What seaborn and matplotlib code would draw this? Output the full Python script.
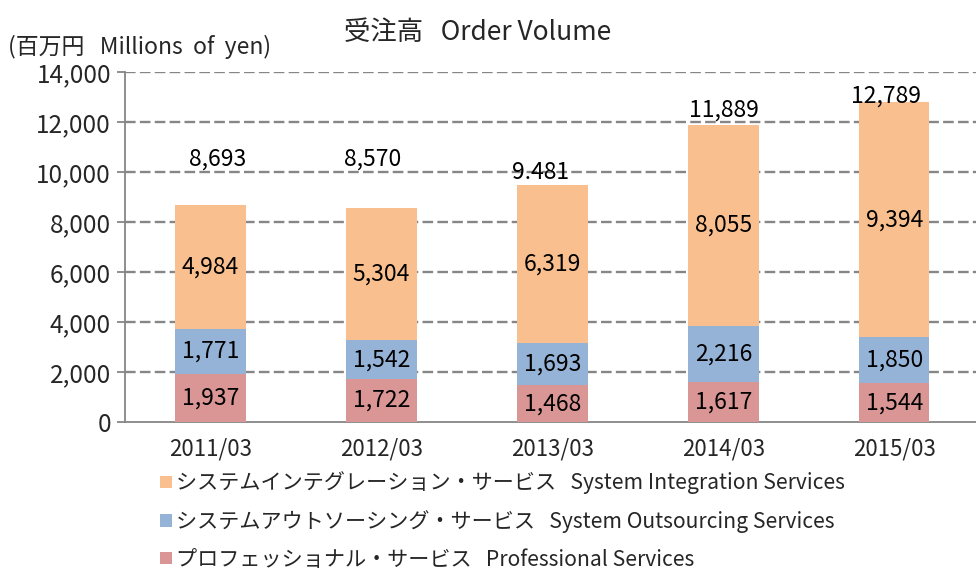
import matplotlib
matplotlib.use("Agg")
import matplotlib.pyplot as plt
import seaborn as sns
import pandas as pd
from matplotlib.patches import Patch

# ---- data ----
years = ["2011/03", "2012/03", "2013/03", "2014/03", "2015/03"]
professional = [1937, 1722, 1468, 1617, 1544]
outsourcing = [1771, 1542, 1693, 2216, 1850]
integration = [4984, 5304, 6319, 8055, 9394]
total_labels = ["8,693", "8,570", "9.481", "11,889", "12,789"]
yticks = [0, 2000, 4000, 6000, 8000, 10000, 12000, 14000]

series_names = [
    "システムインテグレーション・サービス   System Integration Services",
    "システムアウトソーシング・サービス   System Outsourcing Services",
    "プロフェッショナル・サービス   Professional Services",
]
title_text = "受注高   Order Volume"
unit_text = "(百万円   Millions  of  yen)"

# label placement (styling, not data)
total_label_y = [10500, 10500, 9960, 12480, 13020]
total_label_dx = [0.04, -0.05, -0.07, 0.0, -0.05]

c_si = "#F9BF8F"
c_so = "#95B3D7"
c_ps = "#D99694"
grid_c = "#868686"

sns.set_theme(style="white")
plt.rcParams["font.family"] = ["Noto Sans CJK JP", "DejaVu Sans"]

df = pd.DataFrame({
    "year": years,
    "ps": professional,
    "so": outsourcing,
    "si": integration,
})
df["c1"] = df["ps"]
df["c2"] = df["ps"] + df["so"]
df["c3"] = df["c2"] + df["si"]

fig = plt.figure(figsize=(9.76, 5.70), dpi=100)
ax = fig.add_axes([125 / 976, 148 / 570, 851 / 976, 350 / 570])

bw = 0.41
sns.barplot(data=df, x="year", y="c3", color=c_si, saturation=1, width=bw,
            ax=ax, order=years, linewidth=0, zorder=3)
sns.barplot(data=df, x="year", y="c2", color=c_so, saturation=1, width=bw,
            ax=ax, order=years, linewidth=0, zorder=3)
sns.barplot(data=df, x="year", y="c1", color=c_ps, saturation=1, width=bw,
            ax=ax, order=years, linewidth=0, zorder=3)

fs = 16.5
for i in range(len(years)):
    ax.text(i, professional[i] / 2, f"{professional[i]:,}", ha="center", va="center",
            fontsize=fs, color="black", zorder=5)
    ax.text(i, df["c1"][i] + outsourcing[i] / 2, f"{outsourcing[i]:,}", ha="center",
            va="center", fontsize=fs, color="black", zorder=5)
    ax.text(i, df["c2"][i] + integration[i] / 2, f"{integration[i]:,}", ha="center",
            va="center", fontsize=fs, color="black", zorder=5)
    ax.text(i + total_label_dx[i], total_label_y[i], total_labels[i], ha="center",
            va="center", fontsize=fs, color="black", zorder=5)

ax.set_xlim(-0.5, 4.477)
ax.set_ylim(0, 14000)
ax.set_yticks(yticks)
ax.set_yticklabels([f"{v:,}" for v in yticks], fontsize=17.5)
ax.set_xlabel("")
ax.set_ylabel("")
ax.tick_params(axis="x", which="major", length=0, labelsize=16, pad=11)
ax.set_xticks([-0.5, 0.5, 1.5, 2.5, 3.5], minor=True)
ax.tick_params(axis="x", which="minor", length=6, width=1.3, color=grid_c)
ax.tick_params(axis="y", length=6, width=1.3, color=grid_c, pad=4, left=True)

for y in yticks[1:]:
    ax.axhline(y, color=grid_c, lw=1.7, ls=(0, (4.5, 1.8)), zorder=1)

for s in ["top", "right"]:
    ax.spines[s].set_visible(False)
for s in ["left", "bottom"]:
    ax.spines[s].set_color(grid_c)
    ax.spines[s].set_linewidth(1.3)
ax.set_facecolor("white")

fig.text(478 / 976, 1 - 33 / 570, title_text, ha="center", va="center", fontsize=19)
fig.text(8 / 976, 1 - 47 / 570, unit_text, ha="left", va="center", fontsize=16.5)

handles = [Patch(facecolor=c_si, edgecolor="none"),
           Patch(facecolor=c_so, edgecolor="none"),
           Patch(facecolor=c_ps, edgecolor="none")]
leg = fig.legend(handles, series_names, loc="upper left",
                 bbox_to_anchor=(152 / 976, 1 - 463 / 570), frameon=False,
                 fontsize=15.2, handlelength=0.55, handleheight=0.55,
                 handletextpad=0.2, labelspacing=0.74, borderaxespad=0)

fig.savefig("out.png", dpi=100, facecolor="white")
